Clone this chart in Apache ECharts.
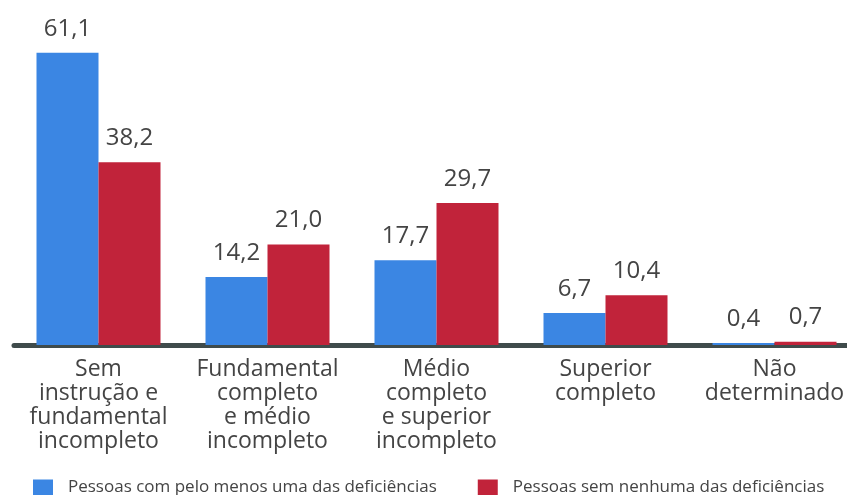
<!DOCTYPE html>
<html>
<head>
<meta charset="utf-8">
<script src="https://cdn.jsdelivr.net/npm/echarts@6/dist/echarts.min.js"></script>
<style>
html,body{margin:0;padding:0;background:#fff;}
#chart{width:847px;height:495px;}
</style>
</head>
<body>
<div id="chart"></div>
<script>
const categories = [
  "Sem\ninstrução e\nfundamental\nincompleto",
  "Fundamental\ncompleto\ne médio\nincompleto",
  "Médio\ncompleto\ne superior\nincompleto",
  "Superior\ncompleto",
  "Não\ndeterminado"
];
const seriesNames = [
  "Pessoas com pelo menos uma das deficiências",
  "Pessoas sem nenhuma das deficiências"
];
const withDisability = [61.1, 14.2, 17.7, 6.7, 0.4];
const withoutDisability = [38.2, 21.0, 29.7, 10.4, 0.7];

const chart = echarts.init(document.getElementById('chart'), null, {renderer: 'canvas'});
const fmt = p => p.value.toFixed(1).replace('.', ',');
const labelStyle = {
  show: true, position: 'top', distance: 12, formatter: fmt,
  fontFamily: 'Open Sans', fontSize: 24, color: '#444'
};
chart.setOption({
  animation: false,
  grid: {left: 14, width: 845, top: 34, bottom: 150, containLabel: false, outerBoundsMode: 'none'},
  legend: {
    left: 33, top: 479, padding: 0, itemWidth: 20, itemHeight: 16, itemGap: 41,
    icon: 'rect',
    textStyle: {fontFamily: 'Open Sans', fontSize: 17, color: '#444', padding: [0, 0, 0, 10]},
    data: seriesNames
  },
  xAxis: {
    type: 'category', data: categories,
    axisLine: {lineStyle: {color: '#3f4b4b', width: 5}},
    axisTick: {show: false},
    axisLabel: {interval: 0, margin: 12, fontFamily: 'Open Sans', fontSize: 23, lineHeight: 24, color: '#444'}
  },
  yAxis: {type: 'value', min: 0, max: 65, show: false, splitLine: {show: false}},
  series: [
    {name: seriesNames[0], type: 'bar', data: withDisability, barWidth: 62, barGap: '0%',
     itemStyle: {color: '#3b86e3'}, label: labelStyle},
    {name: seriesNames[1], type: 'bar', data: withoutDisability, barWidth: 62,
     itemStyle: {color: '#c1233a'}, label: labelStyle}
  ]
});
</script>
</body>
</html>
